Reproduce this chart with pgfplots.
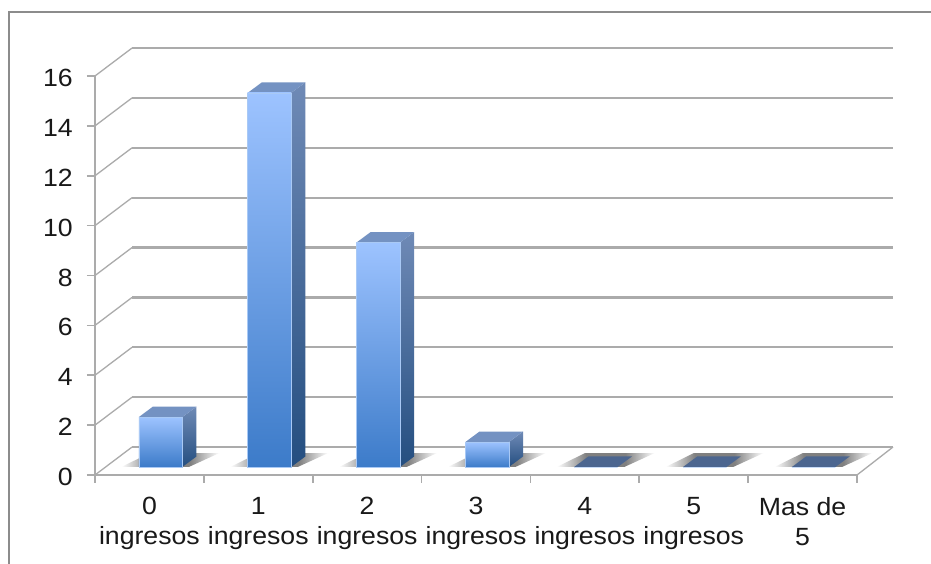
\documentclass[border=0pt]{standalone}
\usepackage{fontspec}
\setmainfont[FakeStretch=1.07]{Liberation Sans}
\usepackage{pgfplots}
\pgfplotsset{compat=1.18}

\definecolor{gridgray}{HTML}{ABABAB}
\definecolor{framegray}{HTML}{8C8C8C}
\definecolor{frontlight}{HTML}{9DC3FF}
\definecolor{frontdark}{HTML}{3C7BC9}
\definecolor{sidelight}{HTML}{6F8AB6}
\definecolor{sidedark}{HTML}{244E80}
\definecolor{topface}{HTML}{7492C2}
\definecolor{flatface}{HTML}{4C6690}
\definecolor{barhalo}{HTML}{A9C9F5}

\pgfdeclarehorizontalshading{floorshadow}{100bp}{
  color(0bp)=(white);
  color(25bp)=(white);
  color(40bp)=(black!50);
  color(60bp)=(black!50);
  color(75bp)=(white);
  color(100bp)=(white)}

% receding faces and floor shadow of one bar: #1 category, #2 value
\newcommand{\barside}[2]{%
  \pgfmathsetmacro\xa{#1+0.2}\pgfmathsetmacro\xb{#1+0.33}%
  \pgfmathsetmacro\yb{#2+0.421}%
  \addplot[shade,top color=sidelight,bottom color=sidedark,draw=none,forget plot]
    coordinates {(\xa,0) (\xb,0.421) (\xb,\yb) (\xa,#2)} --cycle;}
\newcommand{\bartop}[3]{%
  \pgfmathsetmacro\xa{#1-0.2}\pgfmathsetmacro\xb{#1+0.2}%
  \pgfmathsetmacro\xc{#1+0.33}\pgfmathsetmacro\xd{#1-0.07}%
  \pgfmathsetmacro\yb{#2+0.421}%
  \addplot[fill=#3,draw=none,forget plot]
    coordinates {(\xa,#2) (\xb,#2) (\xc,\yb) (\xd,\yb)} --cycle;}
\newcommand{\barshadow}[1]{%
  \pgfmathsetmacro\xa{#1-0.36}\pgfmathsetmacro\xb{#1+0.26}%
  \pgfmathsetmacro\xc{#1+0.54}\pgfmathsetmacro\xd{#1-0.10}%
  \addplot[shade,shading=floorshadow,draw=none,forget plot]
    coordinates {(\xa,0) (\xb,0) (\xc,0.56) (\xd,0.56)} --cycle;}
\pgfplotsset{frontface/.style={ybar,bar width=43.5bp,bar shift=0pt,draw=barhalo,line width=0.5bp,
  shade,top color=frontlight,bottom color=frontdark,forget plot},
  flatedge/.style={ybar,bar width=43.5bp,bar shift=0pt,draw=barhalo,line width=0.8bp,forget plot}}

\begin{document}
\begin{tikzpicture}[x=1bp,y=1bp]
\path[use as bounding box] (0,0) rectangle (931,564);
\fill[white] (0,0) rectangle (931,564);
\draw[framegray,line width=1.8bp] (8.8,0) -- (8.8,552) -- (931,552);

% walls, floor and value axis
\begin{axis}[
  at={(95bp,89bp)},anchor=south west,
  scale only axis,width=762bp,height=399bp,
  xmin=-0.5,xmax=6.5,ymin=0,ymax=16,clip=false,
  axis x line=bottom,axis y line=left,
  axis line style={draw=gridgray,line width=1.8bp,-},
  xtick={0,...,6},
  xticklabels={{0\\ingresos},{1\\ingresos},{2\\ingresos},{3\\ingresos},{4\\ingresos},{5\\ingresos},{Mas de\\5}},
  minor xtick={-0.5,0.5,...,6.5},
  ytick={0,2,...,16},
  tick align=outside,
  major tick length=8bp,
  minor tick length=8bp,
  major x tick style={draw=none},
  minor x tick style={draw=gridgray,line width=1.6bp},
  major y tick style={draw=gridgray,line width=1.6bp},
  xticklabel style={align=center,font=\fontsize{25}{30}\selectfont,text=black!90,yshift=-14bp,inner sep=0pt},
  yticklabel style={font=\fontsize{25}{30}\selectfont,text=black!90,xshift=-14bp,yshift=-2bp,inner sep=0pt},
  /pgf/number format/assume math mode=true,
]
\addplot[gridgray,line width=1.3bp,forget plot] coordinates {(-0.5,0) (-0.16,1.12)};
\addplot[gridgray,line width=1.3bp,forget plot] coordinates {(-0.5,2) (-0.16,3.12)};
\addplot[gridgray,line width=1.3bp,forget plot] coordinates {(-0.5,4) (-0.16,5.12)};
\addplot[gridgray,line width=1.3bp,forget plot] coordinates {(-0.5,6) (-0.16,7.12)};
\addplot[gridgray,line width=1.3bp,forget plot] coordinates {(-0.5,8) (-0.16,9.12)};
\addplot[gridgray,line width=1.3bp,forget plot] coordinates {(-0.5,10) (-0.16,11.12)};
\addplot[gridgray,line width=1.3bp,forget plot] coordinates {(-0.5,12) (-0.16,13.12)};
\addplot[gridgray,line width=1.3bp,forget plot] coordinates {(-0.5,14) (-0.16,15.12)};
\addplot[gridgray,line width=1.3bp,forget plot] coordinates {(-0.5,16) (-0.16,17.12)};
\addplot[gridgray,line width=2.2bp,forget plot] coordinates {(-0.16,1.12) (6.83,1.12)};
\addplot[gridgray,line width=2.2bp,forget plot] coordinates {(-0.16,3.12) (6.83,3.12)};
\addplot[gridgray,line width=2.2bp,forget plot] coordinates {(-0.16,5.12) (6.83,5.12)};
\addplot[gridgray,line width=2.2bp,forget plot] coordinates {(-0.16,7.12) (6.83,7.12)};
\addplot[gridgray,line width=2.2bp,forget plot] coordinates {(-0.16,9.12) (6.83,9.12)};
\addplot[gridgray,line width=2.2bp,forget plot] coordinates {(-0.16,11.12) (6.83,11.12)};
\addplot[gridgray,line width=2.2bp,forget plot] coordinates {(-0.16,13.12) (6.83,13.12)};
\addplot[gridgray,line width=2.2bp,forget plot] coordinates {(-0.16,15.12) (6.83,15.12)};
\addplot[gridgray,line width=2.2bp,forget plot] coordinates {(-0.16,17.12) (6.83,17.12)};
\addplot[gridgray,line width=1.3bp,forget plot] coordinates {(6.5,0) (6.83,1.12)};
\end{axis}

% bars stand on a plane set back from the floor's front edge
\begin{axis}[
  at={(106.1bp,97bp)},anchor=south west,
  scale only axis,width=762bp,height=399bp,
  xmin=-0.5,xmax=6.5,ymin=0,ymax=16,clip=false,
  hide axis,
]
\barshadow{0}\barshadow{1}\barshadow{2}\barshadow{3}\barshadow{4}\barshadow{5}\barshadow{6}
\barside{0}{2}\barside{1}{15}\barside{2}{9}\barside{3}{1}
\bartop{0}{2}{topface}\bartop{1}{15}{topface}\bartop{2}{9}{topface}\bartop{3}{1}{topface}
\bartop{4}{0}{flatface}\bartop{5}{0}{flatface}\bartop{6}{0}{flatface}
\addplot[frontface] coordinates {(0,2)};
\addplot[frontface] coordinates {(1,15)};
\addplot[frontface] coordinates {(2,9)};
\addplot[frontface] coordinates {(3,1)};
\addplot[flatedge] coordinates {(4,0)};
\addplot[flatedge] coordinates {(5,0)};
\addplot[flatedge] coordinates {(6,0)};
\end{axis}
\end{tikzpicture}
\end{document}
